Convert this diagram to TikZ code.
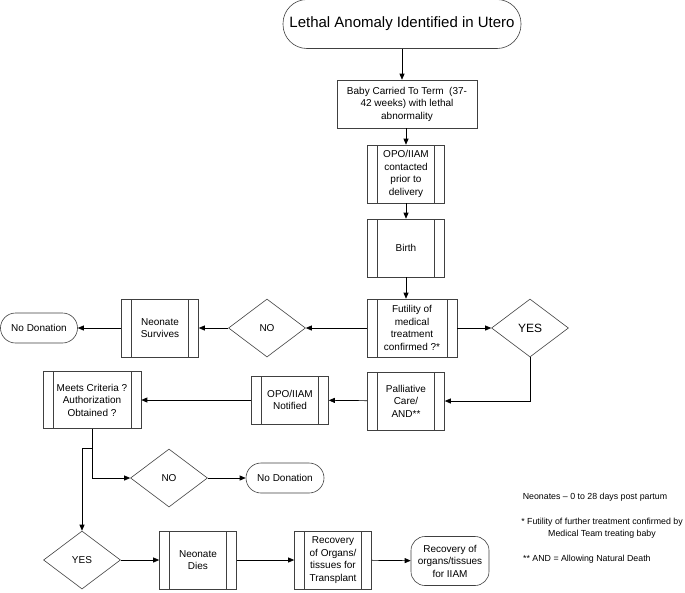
\documentclass[tikz,border=0pt]{standalone}
\usepackage{fontspec}
\setmainfont{Liberation Sans}
\usetikzlibrary{shapes.geometric,arrows.meta}
\tikzset{
	box/.style = {draw=black!75, line width=0.6pt, fill=white, align=center,
		inner sep=1pt, font=\fontsize{10}{12.5}\selectfont},
	proc/.style = {box, minimum width=77pt, minimum height=58pt,
		path picture={\draw[black!75, line width=0.6pt]
			([xshift=10pt]path picture bounding box.north west) --
			([xshift=10pt]path picture bounding box.south west)
			([xshift=-10pt]path picture bounding box.north east) --
			([xshift=-10pt]path picture bounding box.south east);}},
	term/.style = {box, rounded corners=#1},
	term/.default = 15pt,
	choice/.style = {box, diamond, minimum width=77pt, minimum height=58pt,
		inner sep=0pt},
	note/.style = {align=center, inner sep=0pt, font=\fontsize{8.8}{11.5}\selectfont},
	arr/.style = {-{Triangle[length=6pt,width=5pt]}, line width=0.7pt}
}
\begin{document}
\begin{tikzpicture}[x=1pt, y=-1pt]
\useasboundingbox (0,0) rectangle (685,592);

\node[term=24pt, minimum width=238pt, minimum height=49pt,
	font=\fontsize{15}{17}\selectfont] (title) at (402,24)
	{Lethal Anomaly Identified in Utero};
\node[box, minimum width=140pt, minimum height=48pt] (carried) at (407,104)
	{Baby Carried To Term\ \ (37-\\42 weeks) with lethal\\abnormality};
\node[proc] (contacted) at (406,174) {OPO/IIAM\\contacted\\prior to\\delivery};
\node[proc] (birth) at (406,248) {Birth};
\node[proc, minimum width=90pt] (futility) at (412,328)
	{Futility of\\medical\\treatment\\confirmed ?*};
\node[choice] (yes1) at (530,328) {\fontsize{12}{14}\selectfont YES};
\node[choice] (no1) at (267,328) {NO};
\node[proc] (survives) at (160,328) {Neonate\\Survives};
\node[term, minimum width=77pt, minimum height=30pt] (nodon1) at (39,328)
	{No Donation};

\node[proc] (palliative) at (406,401) {Palliative\\Care/\\AND**};
\node[proc, minimum height=48pt] (notified) at (290,400) {OPO/IIAM\\Notified};
\node[proc, minimum width=98pt, minimum height=57pt] (criteria) at (92,400)
	{Meets Criteria ?\\Authorization\\Obtained ?};
\node[choice] (no2) at (169,478) {NO};
\node[term, minimum width=78pt, minimum height=30pt] (nodon2) at (285,478)
	{No Donation};

\node[choice] (yes2) at (82,560) {YES};
\node[proc] (dies) at (198,560) {Neonate\\Dies};
\node[proc] (transplant) at (333,560) {Recovery\\of Organs/\\tissues for\\Transplant};
\node[term=14pt, minimum width=78pt, minimum height=49pt] (iiam) at (450,561)
	{Recovery of\\organs/tissues\\for IIAM};

\node[note] (n1) at (595,497) {Neonates -- 0 to 28 days post partum};
\node[note] (n2) at (602,528)
	{* Futility of further treatment confirmed by\\Medical Team treating baby};
\node[note, anchor=west] (n3) at (523,559) {** AND = Allowing Natural Death};

\draw[arr] (title) -- (title |- carried.north);
\draw[arr] (contacted |- carried.south) -- (contacted);
\draw[arr] (contacted) -- (birth);
\draw[arr] (birth) -- (birth |- futility.north);
\draw[arr] (futility) -- (yes1);
\draw[arr] (futility) -- (no1);
\draw[arr] (no1) -- (survives);
\draw[arr] (survives) -- (nodon1);
\draw[arr] (yes1) |- (palliative);
\draw[arr] (palliative) -- (notified);
\draw[arr] (notified) -- (criteria);
\draw[arr] (criteria) |- (no2);
\draw[arr] ([yshift=-20pt]criteria.south) -| (yes2);
\draw[arr] (no2) -- (nodon2);
\draw[arr] (yes2) -- (dies);
\draw[arr] (dies) -- (transplant);
\draw[arr] (transplant) -- (iiam);
\end{tikzpicture}
\end{document}
